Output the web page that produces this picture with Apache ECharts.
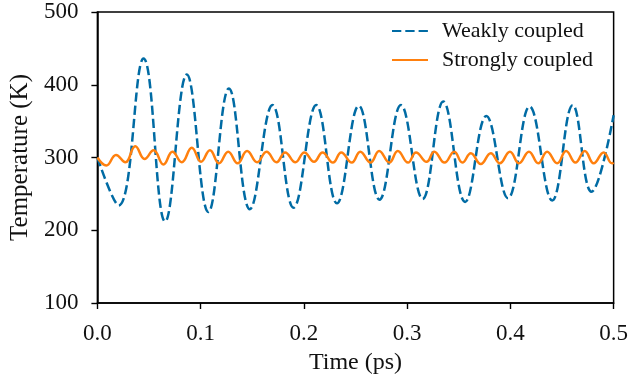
<!DOCTYPE html>
<html>
<head>
<meta charset="utf-8">
<script src="https://cdn.jsdelivr.net/npm/echarts@6/dist/echarts.min.js"></script>
<style>
html,body{margin:0;padding:0;background:#fff;}
#chart{width:631px;height:384px;}
</style>
</head>
<body>
<div id="chart"></div>
<script>
// ---- data (extrema of each oscillation) ----
const seriesNames = ['Weakly coupled', 'Strongly coupled'];

const timeWeak = [0, 0.0206, 0.0447, 0.0656, 0.0866, 0.1075, 0.1274, 0.1477, 0.1696, 0.190,
  0.212, 0.232, 0.2532, 0.2732, 0.294, 0.315, 0.335, 0.3562, 0.3767, 0.3977,
  0.4186, 0.4405, 0.4604, 0.4785, 0.5];
const tempWeak = [300, 234, 436, 212, 414, 225, 395, 229, 372, 231,
  372, 237, 371, 242, 372, 243, 377, 239, 357, 244,
  370, 241, 372, 253, 358];

const timeStrong = [0, 0.0087, 0.018, 0.027, 0.0367, 0.0457, 0.0544, 0.064, 0.0727, 0.0817,
  0.0914, 0.1004, 0.109, 0.1178, 0.1267, 0.1358, 0.145, 0.1547, 0.1638, 0.1735,
  0.1818, 0.1918, 0.2004, 0.2098, 0.2181, 0.2281, 0.2362, 0.2464, 0.2546, 0.2645,
  0.2729, 0.2828, 0.2909, 0.3009, 0.3086, 0.3188, 0.3263, 0.3362, 0.3456, 0.3535,
  0.3617, 0.3713, 0.381, 0.3897, 0.3996, 0.4083, 0.418, 0.427, 0.4356, 0.4453,
  0.454, 0.463, 0.472, 0.4807, 0.4903, 0.4984, 0.5];
const tempStrong = [300, 289, 303.5, 293.5, 315.5, 298, 310, 290.5, 308, 293.5,
  313.5, 294, 310, 292, 308, 292, 309, 293.5, 308, 293.5,
  307, 293.5, 307, 294, 307, 293, 307, 293, 308, 293,
  309, 293, 309, 293, 307, 294, 308, 293, 308, 293,
  306, 291, 306, 292, 308, 292, 308, 292, 308, 292,
  309, 293, 309, 292, 307, 292, 293];

const xTicks = [0, 0.1, 0.2, 0.3, 0.4, 0.5];
const yTicks = [100, 200, 300, 400, 500];
const xTitle = 'Time (ps)';
const yTitle = 'Temperature (K)';

// ---- chart ----
const pairs = (xs, ys) => xs.map((x, i) => [x, ys[i]]);
const FONT = '"Liberation Serif", "Times New Roman", serif';

const chart = echarts.init(document.getElementById('chart'), null, {renderer: 'canvas'});
chart.setOption({
  animation: false,
  backgroundColor: '#fff',
  grid: {left: 97, right: 16, top: 12, bottom: 81, show: true, borderColor: '#000', borderWidth: 1.5, backgroundColor: 'transparent'},
  legend: {
    orient: 'vertical', left: 391, top: 20, padding: 0, align: 'left',
    itemWidth: 36, itemHeight: 20, itemGap: 7,
    itemStyle: {opacity: 0},
    textStyle: {fontFamily: FONT, fontSize: 22, color: '#111', padding: [0, 0, 0, 9]},
    data: seriesNames
  },
  xAxis: {
    type: 'value', min: xTicks[0], max: xTicks[xTicks.length - 1], interval: xTicks[1] - xTicks[0],
    name: xTitle, nameLocation: 'middle', nameGap: 48,
    nameTextStyle: {fontFamily: FONT, fontSize: 24, color: '#111'},
    axisLine: {show: true, onZero: false, lineStyle: {color: '#000', width: 1.5}},
    axisTick: {show: true, inside: false, length: 6, lineStyle: {color: '#000', width: 1.4}},
    axisLabel: {fontFamily: FONT, fontSize: 23, color: '#111', margin: 19, formatter: v => v.toFixed(1)},
    splitLine: {show: false}
  },
  yAxis: {
    type: 'value', min: yTicks[0], max: yTicks[yTicks.length - 1], interval: yTicks[1] - yTicks[0],
    name: yTitle, nameLocation: 'middle', nameGap: 64,
    nameTextStyle: {fontFamily: FONT, fontSize: 25, color: '#111'},
    axisLine: {show: true, onZero: false, lineStyle: {color: '#000', width: 1.5}},
    axisTick: {show: true, inside: false, length: 6, lineStyle: {color: '#000', width: 1.4}},
    axisLabel: {fontFamily: FONT, fontSize: 23, color: '#111', margin: 19},
    splitLine: {show: false}
  },
  series: [
    {
      name: seriesNames[0], type: 'line', data: pairs(timeWeak, tempWeak),
      smooth: 0.42, symbol: 'none', color: '#006BA4',
      lineStyle: {color: '#006BA4', width: 2.5, type: [9.3, 4]}
    },
    {
      name: seriesNames[1], type: 'line', data: pairs(timeStrong, tempStrong),
      smooth: 0.45, symbol: 'none', color: '#FF800E',
      lineStyle: {color: '#FF800E', width: 2.5, type: 'solid'}
    }
  ]
});
</script>
</body>
</html>
